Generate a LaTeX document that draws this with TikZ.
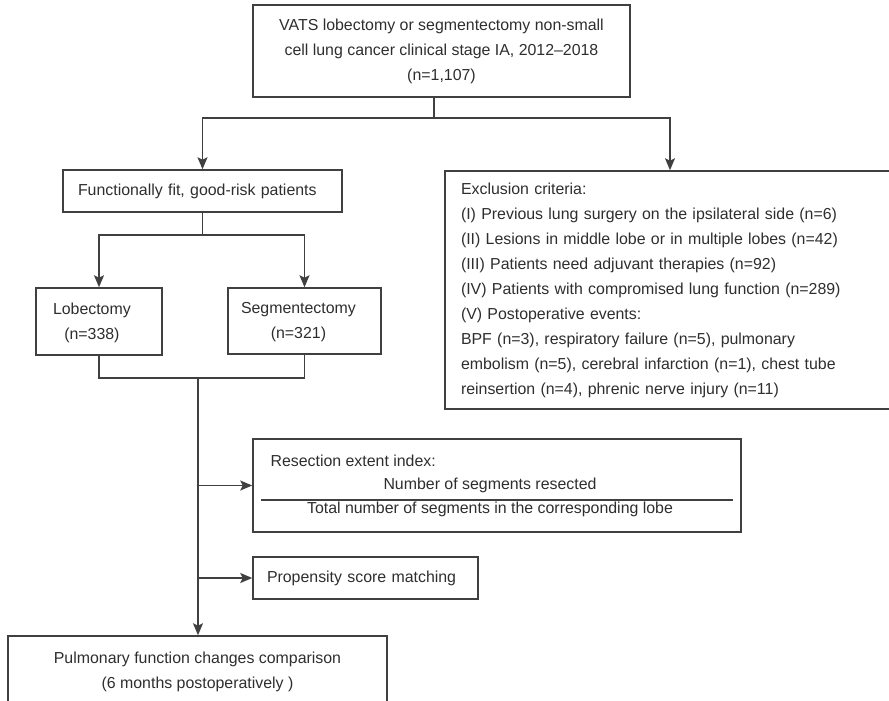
\documentclass[tikz,border=0pt]{standalone}
\usepackage{fontspec}
\setmainfont{Liberation Sans}
\usetikzlibrary{arrows.meta}
\definecolor{ink}{HTML}{2E2E2E}
\definecolor{rim}{HTML}{404040}

\begin{document}
\begin{tikzpicture}[x=1pt, y=-1pt,
	every node/.style={font=\fontsize{15.9}{25}\selectfont, text=ink},
	box/.style={draw=rim, line width=1.5pt, rectangle, inner sep=0pt},
	link/.style={draw=rim, line width=1.5pt},
	arr/.style={link, -{Stealth[length=12pt, width=10pt, inset=2.5pt]}}]
			\useasboundingbox (0,0) rectangle (889,701);
			\clip (0,0) rectangle (889,701);
			% boxes
			\node[box, minimum width=377pt, minimum height=92pt, align=center] at (441.5,51) (top){VATS lobectomy or segmentectomy non-small\\cell lung cancer clinical stage IA, 2012–2018\\(n=1,107)};
			\node[box, inner xsep=15pt, text width=249pt, minimum height=42pt, align=left] at (202.5,191) (fit){Functionally fit, good-risk patients};
			\node[box, inner xsep=17pt, text width=92pt, minimum height=67pt, align=left] at (99,321.5) (lob){\begin{tabular}{@{}c@{}}Lobectomy\\(n=338)\end{tabular}};
			\node[box, inner xsep=13pt, text width=127pt, minimum height=66pt, align=left] at (304.5,321) (seg){\begin{tabular}{@{}c@{}}Segmentectomy\\(n=321)\end{tabular}};
			\node[box, inner xsep=16pt, text width=418pt, minimum height=238pt, align=left] at (670,290) (excl){Exclusion criteria:\\(I) Previous lung surgery on the ipsilateral side (n=6)\\(II) Lesions in middle lobe or in multiple lobes (n=42)\\(III) Patients need adjuvant therapies (n=92)\\(IV) Patients with compromised lung function (n=289)\\(V) Postoperative events:\\BPF (n=3), respiratory failure (n=5), pulmonary\\embolism (n=5), cerebral infarction (n=1), chest tube\\reinsertion (n=4), phrenic nerve injury (n=11)};
			\node[box, minimum width=488pt, minimum height=93pt] at (497,485.5) (rei){};
			\node[anchor=west] at (267,461) (reihead){Resection extent index:};
			\node at (490,485) (reinum){Number of segments resected};
			\node at (490,509) (reiden){Total number of segments in the corresponding lobe};
			\draw[link, line width=1.3pt] (261,500) -- (733,500);
			\node[box, inner xsep=14pt, text width=197pt, minimum height=42pt, align=left] at (365.5,578) (psm){Propensity score matching};
			\node[box, minimum width=379pt, minimum height=71pt, align=center] at (197.5,671.5) (pfc){Pulmonary function changes comparison\\(6 months postoperatively )};
			% connectors
			\coordinate (split) at (434,118);
			\draw[link] (top.south -| split) -- (split);
			\draw[arr] (split) -| (fit.north);
			\draw[arr] (split) -| (excl.north);
			\coordinate (fork) at (202,235);
			\draw[link] (fit.south) -- (fit.south |- fork);
			\draw[arr] (fit.south |- fork) -| (lob.north);
			\draw[arr] (fit.south |- fork) -| (seg.north);
			\coordinate (join) at (198,378);
			\draw[link] (lob.south) |- (join) -| (seg.south);
			\draw[arr] (join) -- (join |- pfc.north);
			\draw[arr] (join |- rei.west) -- (rei.west);
			\draw[arr] (join |- psm.west) -- (psm.west);
		\end{tikzpicture}
\end{document}
